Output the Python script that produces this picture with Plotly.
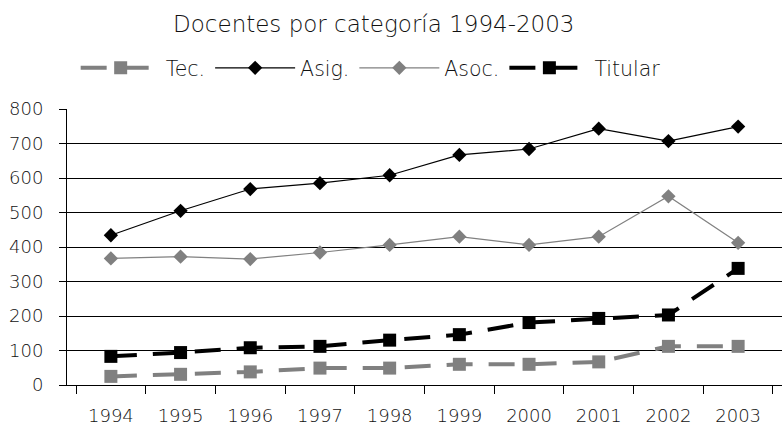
import plotly.graph_objects as go

years = ["1994", "1995", "1996", "1997", "1998", "1999", "2000", "2001", "2002", "2003"]
tec = [25, 31, 38, 49, 49, 60, 60, 67, 112, 112]
asig = [434, 505, 568, 585, 608, 667, 684, 743, 707, 749]
asoc = [367, 372, 365, 384, 406, 430, 406, 430, 547, 412]
titular = [83, 94, 108, 112, 130, 146, 181, 193, 203, 338]
y_ticks = [0, 100, 200, 300, 400, 500, 600, 700, 800]

FONT = "DejaVu Sans ExtraLight, DejaVu Sans, sans-serif"
GRAY = "#808080"
TXT = "#111111"

fig = go.Figure()
fig.add_trace(go.Scatter(x=years, y=tec, name="Tec.", mode="lines+markers",
                         line=dict(color=GRAY, width=4, dash="26px,16px"),
                         marker=dict(symbol="square", size=13, color=GRAY)))
fig.add_trace(go.Scatter(x=years, y=asig, name="Asig.", mode="lines+markers",
                         line=dict(color="black", width=1.2),
                         marker=dict(symbol="diamond", size=11, color="black")))
fig.add_trace(go.Scatter(x=years, y=asoc, name="Asoc.", mode="lines+markers",
                         line=dict(color=GRAY, width=1.2),
                         marker=dict(symbol="diamond", size=11, color=GRAY)))
fig.add_trace(go.Scatter(x=years, y=titular, name="Titular", mode="lines+markers",
                         line=dict(color="black", width=4, dash="26px,16px"),
                         marker=dict(symbol="square", size=13, color="black")))

fig.update_layout(
    width=782, height=429,
    margin=dict(l=67, r=0, t=109, b=44, autoexpand=False),
    paper_bgcolor="white", plot_bgcolor="white",
    font=dict(family=FONT, size=16, color=TXT, weight=200),
    title=dict(text="Docentes por categoría 1994-2003", xref="container", x=0.478,
               xanchor="center", yref="container", y=1 - 24 / 429, yanchor="middle",
               font=dict(family=FONT, size=23, color=TXT, weight=200)),
    legend=dict(orientation="h", xref="container", x=0.474, xanchor="center",
                yref="container", y=1 - 68 / 429, yanchor="middle",
                itemwidth=80, font=dict(family=FONT, size=20.5, color=TXT, weight=200),
                bgcolor="rgba(0,0,0,0)"),
    showlegend=True,
)
fig.update_xaxes(type="category", showline=True, linecolor="black", linewidth=1,
                 ticks="outside", tickson="boundaries", ticklen=8, tickcolor="black",
                 showgrid=False, ticklabelstandoff=14, automargin=False,
                 tickfont=dict(family=FONT, size=18, color=TXT, weight=200))
fig.update_yaxes(range=[0, 800], tickvals=y_ticks, showline=True, linecolor="black",
                 linewidth=1, ticks="outside", ticklen=7, tickcolor="black",
                 showgrid=True, gridcolor="black", gridwidth=1, zeroline=False,
                 ticklabelstandoff=12, automargin=False,
                 tickfont=dict(family=FONT, size=18, color=TXT, weight=200))

fig.write_html("out.html", config={"displayModeBar": False},
               post_script="document.body.style.margin='0';document.body.style.overflow='hidden';")
